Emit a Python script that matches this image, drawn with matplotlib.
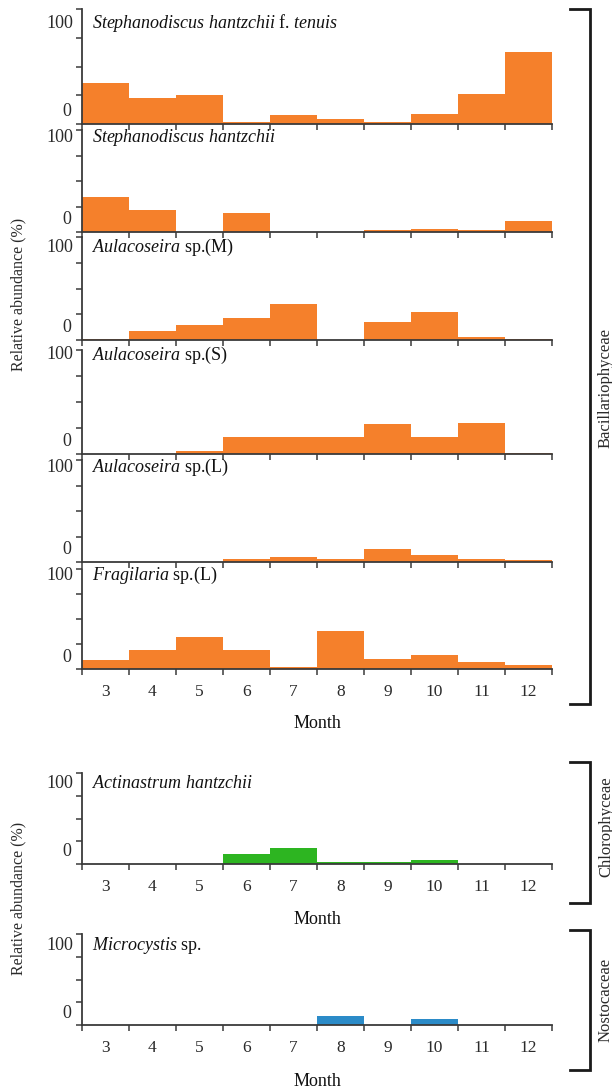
import matplotlib
matplotlib.use("Agg")
import matplotlib.pyplot as plt
from matplotlib.lines import Line2D

plt.rcParams['font.family'] = ['Liberation Serif', 'DejaVu Serif']
plt.rcParams['mathtext.fontset'] = 'custom'
plt.rcParams['mathtext.rm'] = 'Liberation Serif'
plt.rcParams['mathtext.it'] = 'Liberation Serif:italic'

# ---------------- data ----------------
months = [3, 4, 5, 6, 7, 8, 9, 10, 11, 12]

species = [
    r"$\mathit{Stephanodiscus\ hantzchii}$ f. $\mathit{tenuis}$",
    r"$\mathit{Stephanodiscus\ hantzchii}$",
    r"$\mathit{Aulacoseira}$ sp.(M)",
    r"$\mathit{Aulacoseira}$ sp.(S)",
    r"$\mathit{Aulacoseira}$ sp.(L)",
    r"$\mathit{Fragilaria}$ sp.(L)",
    r"$\mathit{Actinastrum\ hantzchii}$",
    r"$\mathit{Microcystis}$ sp.",
]

s_hantzchii_tenuis = [36, 23, 25, 1.7, 8, 4.4, 1.7, 8.5, 26, 63]
s_hantzchii = [34, 21.7, 0, 19, 0, 0, 1.6, 3.3, 1.6, 10.9]
aulacoseira_m = [1, 9, 15, 21, 35, 0, 17, 27.5, 2.6, 0.8]
aulacoseira_s = [0, 0, 3, 16, 16, 16, 28.5, 16, 30, 1.3]
aulacoseira_l = [0, 0, 0, 3, 5, 3, 13, 6.7, 3, 1.7]
fragilaria_l = [8.6, 18.8, 32, 18.8, 1.6, 38.5, 10.2, 13.8, 6.9, 3.6]
actinastrum = [0, 0, 0, 10.5, 17.6, 1.8, 1.8, 4, 0, 0]
microcystis = [0, 0, 0, 0, 0, 9.9, 0, 6.2, 0, 0]

series = [s_hantzchii_tenuis, s_hantzchii, aulacoseira_m, aulacoseira_s,
          aulacoseira_l, fragilaria_l, actinastrum, microcystis]

groups = ["Bacillariophyceae", "Chlorophyceae", "Nostocaceae"]

# ---------------- layout / style ----------------
W, H = 612, 1091
ORANGE = "#F5802B"
GREEN = "#2DB521"
BLUE = "#2B8BC8"
colors = [ORANGE] * 6 + [GREEN, BLUE]
panel_tops = [9, 130, 237, 350, 460, 569, 773, 934]
panel_bases = [124, 232, 340, 454, 562, 669, 864, 1025]
label_drop = [14, 7, 10, 5, 7, 6, 10, 11]
show_xlabels = [False] * 5 + [True, True, True]
AX_L, AX_R = 82, 552
SPINE = "#3a3a3a"
TXT = "#2a2a2a"
PT = 0.72  # points per pixel at dpi=100

fig = plt.figure(figsize=(W / 100, H / 100), dpi=100)

for i, vals in enumerate(series):
    top, base = panel_tops[i], panel_bases[i]
    ax = fig.add_axes([AX_L / W, 1 - base / H, (AX_R - AX_L) / W, (base - top) / H])
    ax.bar(months, vals, width=1.0, color=colors[i], edgecolor='none', zorder=1)
    ax.set_xlim(2.5, 12.5)
    ax.set_ylim(0, 100)
    for s in ['top', 'right']:
        ax.spines[s].set_visible(False)
    for s in ['left', 'bottom']:
        ax.spines[s].set_color(SPINE)
        ax.spines[s].set_linewidth(1.3)
        ax.spines[s].set_zorder(3)
    ax.set_yticks([0, 25, 50, 75, 100])
    ax.set_yticklabels([])
    ax.set_xticks([m - 0.5 for m in months] + [12.5])
    ax.set_xticklabels([])
    ax.tick_params(axis='both', which='major', direction='out', length=4, width=1.1,
                   color=SPINE)
    ax.set_xticks(months, minor=True)
    if show_xlabels[i]:
        ax.set_xticklabels([str(m) for m in months], minor=True)
    ax.tick_params(axis='x', which='minor', length=0, pad=15 * PT, labelsize=12.5,
                   labelcolor=TXT)
    ax.patch.set_alpha(0)
    d = label_drop[i]
    ax.annotate("100", xy=(0, 1), xycoords='axes fraction', xytext=(-9 * PT, -d * PT),
                textcoords='offset points', ha='right', va='center', fontsize=13, color=TXT)
    ax.annotate("0", xy=(0, 0), xycoords='axes fraction', xytext=(-11 * PT, 12 * PT),
                textcoords='offset points', ha='right', va='center', fontsize=13, color=TXT)
    ax.annotate(species[i], xy=(0, 1), xycoords='axes fraction', xytext=(10 * PT, -d * PT),
                textcoords='offset points', ha='left', va='center', fontsize=13, color='#111111')
    if show_xlabels[i]:
        ax.annotate("Month", xy=(0.5, 0), xycoords='axes fraction',
                    xytext=(0, -(55 if i == 5 else 56) * PT),
                    textcoords='offset points', ha='center', va='center', fontsize=13, color='#111111')

# y-axis titles
fig.text(18 / W, 1 - 294 / H, "Relative abundance (%)", rotation=90, ha='center', va='center',
         fontsize=11.5, color=TXT)
fig.text(18 / W, 1 - 898 / H, "Relative abundance (%)", rotation=90, ha='center', va='center',
         fontsize=11.5, color=TXT)

# brackets and group labels
brackets = [(9, 704, 388), (762, 903, 827), (930, 1070, 1000)]
BX, BARM = 590, 570
for (t, b, c), name in zip(brackets, groups):
    xs = [BARM / W, BX / W, BX / W, BARM / W]
    ys = [1 - t / H, 1 - t / H, 1 - b / H, 1 - b / H]
    fig.add_artist(Line2D(xs, ys, transform=fig.transFigure, color="#1a1a1a", lw=2.0,
                          solid_joinstyle='miter'))
    fig.text(606 / W, 1 - c / H, name, rotation=90, ha='center', va='center',
             fontsize=12, color=TXT)

fig.savefig("out.png", dpi=100)
